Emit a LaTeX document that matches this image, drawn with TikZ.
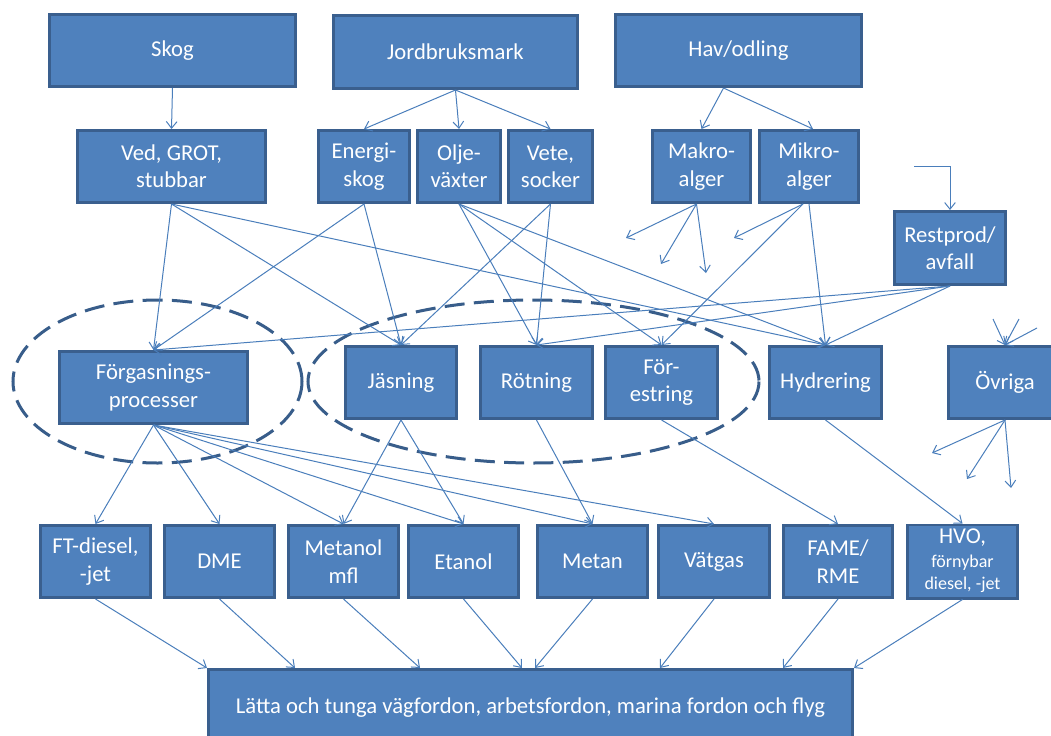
\documentclass[tikz,border=0pt]{standalone}
\usepackage{fontspec}
\setmainfont{Carlito}
\usetikzlibrary{arrows.meta,calc}
\definecolor{bfill}{HTML}{4F81BD}
\definecolor{bdraw}{HTML}{3A5F8E}
\definecolor{lcol}{HTML}{4A7EBB}
\definecolor{ecol}{HTML}{385D8A}
\newcommand\hvosmall{\fontsize{13.5}{15}\selectfont}
\begin{document}
\begin{tikzpicture}[x=0.75pt,y=-0.75pt,
  box/.style={draw=bdraw, fill=bfill, line width=2pt, text=white, align=center,
    inner sep=0pt, minimum height=54.25pt, font=\fontsize{17}{20.5}\selectfont},
  bw/.style={minimum width=#1*0.75pt-2pt},
  bh/.style={minimum height=#1*0.75pt-2pt},
  conn/.style={draw=lcol, line width=0.75pt, -{Straight Barb[length=5pt,width=8pt]}},
  ell/.style={draw=ecol, line width=2.25pt, dash pattern=on 15pt off 7pt}]
\useasboundingbox (0,0) rectangle (1051,736);
\clip (0,0) rectangle (1051,736);
% dashed groups
\draw[ell] (157.5,381.5) ellipse [x radius=144.5, y radius=81.5];
\draw[ell] (533.5,381.5) ellipse [x radius=225.5, y radius=81.5];
% boxes
\node[box,bw=249] (skog) at (172.5,50.5) {Skog};
\node[box,bw=247,bh=76] (jb) at (455.5,52) {Jordbruksmark};
\node[box,bw=249] (hav) at (738.5,50.5) {Hav/odling};
\node[box,bw=191] (ved) at (171.5,166.5) {Ved, GROT,\\stubbar};
\node[box,bw=94] (energi) at (364,166.5) {Energi-\\skog};
\node[box,bw=86] (olje) at (459,166.5) {Olje-\\växter};
\node[box,bw=87] (vete) at (550.5,166.5) {Vete,\\socker};
\node[box,bw=101] (makro) at (701.5,166.5) {Makro-\\alger};
\node[box,bw=102] (mikro) at (809,166.5) {Mikro-\\alger};
\node[box,bw=114,bh=76] (rest) at (950,248) {Restprod/\\avfall};
\node[box,bw=191] (forg) at (153.5,387.5) {Förgasnings-\\processer};
\node[box,bw=114] (jas) at (401,382.5) {Jäsning};
\node[box,bw=115] (rot) at (536.5,382.5) {Rötning};
\node[box,bw=115] (fore) at (661.5,382.5) {För-\\estring};
\node[box,bw=115] (hyd) at (825.5,382.5) {Hydrering};
\node[box,bw=116] (ovr) at (1005,382.5) {Övriga};
\node[box,bw=113] (ft) at (95.5,561.5) {FT-diesel,\\-jet};
\node[box,bw=113] (dme) at (219.5,561.5) {DME};
\node[box,bw=113] (metanol) at (343.5,561.5) {Metanol\\mfl};
\node[box,bw=113] (etanol) at (463.5,561.5) {Etanol};
\node[box,bw=113] (metan) at (592.5,561.5) {Metan};
\node[box,bw=114] (vatgas) at (714,561.5) {Vätgas};
\node[box,bw=112] (fame) at (838,561.5) {FAME/\\RME};
\node[box,bw=113] (hvo) at (962.5,561.5) {\begin{tabular}{@{}c@{}}HVO,\\[-3pt]\hvosmall förnybar\\[-3.5pt]\hvosmall diesel, -jet\end{tabular}};
\node[box,bw=647,bh=80] (big) at (530.5,708) {Lätta och tunga vägfordon, arbetsfordon, marina fordon och flyg};
% free ends
\coordinate (rin) at (914,166);
\coordinate (mk1) at (626,238);
\coordinate (mk2) at (661,264);
\coordinate (mk3) at (706,273);
\coordinate (mi1) at (734,238);
\coordinate (oi1) at (993,319);
\coordinate (oi2) at (1019,319);
\coordinate (oi3) at (1037,328);
\coordinate (oo1) at (932,453);
\coordinate (oo2) at (967,479);
\coordinate (oo3) at (1011,488);
% sources
\draw[conn] (skog.south) -- (ved.north);
\draw[conn] (jb.south) -- (energi.north);
\draw[conn] (jb.south) -- (olje.north);
\draw[conn] (jb.south) -- (vete.north);
\draw[conn] ($(hav.south)+(-15,0)$) -- (makro.north);
\draw[conn] ($(hav.south)+(-15,0)$) -- ($(mikro.north)+(4,0)$);
\draw[conn] (rin) -| (rest.north);
% to processes
\draw[conn] (ved.south) -- (forg.north);
\draw[conn] (ved.south) -- (jas.north);
\draw[conn] (ved.south) -- (hyd.north);
\draw[conn] (energi.south) -- (forg.north);
\draw[conn] (energi.south) -- (jas.north);
\draw[conn] (olje.south) -- (rot.north);
\draw[conn] (olje.south) -- (fore.north);
\draw[conn] (olje.south) -- (hyd.north);
\draw[conn] (vete.south) -- (jas.north);
\draw[conn] (vete.south) -- (rot.north);
\draw[conn] ($(makro.south)+(-5,0)$) -- (mk1);
\draw[conn] ($(makro.south)+(-5,0)$) -- (mk2);
\draw[conn] ($(makro.south)+(-5,0)$) -- (mk3);
\draw[conn] ($(mikro.south)+(-6,0)$) -- (mi1);
\draw[conn] ($(mikro.south)+(-6,0)$) -- (fore.north);
\draw[conn] (mikro.south) -- (hyd.north);
\draw[conn] (rest.south) -- (forg.north);
\draw[conn] (rest.south) -- (rot.north);
\draw[conn] (rest.south) -- (hyd.north);
\draw[conn] (oi1) -- (ovr.north);
\draw[conn] (oi2) -- (ovr.north);
\draw[conn] (oi3) -- (ovr.north);
\draw[conn] (ovr.south) -- (oo1);
\draw[conn] (ovr.south) -- (oo2);
\draw[conn] (ovr.south) -- (oo3);
% to fuels
\draw[conn] (forg.south) -- (ft.north);
\draw[conn] (forg.south) -- (dme.north);
\draw[conn] (forg.south) -- (metanol.north);
\draw[conn] (forg.south) -- (etanol.north);
\draw[conn] (forg.south) -- (metan.north);
\draw[conn] (forg.south) -- (vatgas.north);
\draw[conn] (jas.south) -- (metanol.north);
\draw[conn] (jas.south) -- (etanol.north);
\draw[conn] (rot.south) -- (metan.north);
\draw[conn] (fore.south) -- (fame.north);
\draw[conn] (hyd.south) -- (hvo.north);
% to vehicles
\draw[conn] (ft.south) -- (big.north west);
\draw[conn] (dme.south) -- ($(big.north west)+(88,0)$);
\draw[conn] (metanol.south) -- ($(big.north west)+(213,0)$);
\draw[conn] (etanol.south) -- ($(big.north west)+(315,0)$);
\draw[conn] (metan.south) -- ($(big.north west)+(328,0)$);
\draw[conn] (vatgas.south) -- ($(big.north west)+(453,0)$);
\draw[conn] (fame.south) -- ($(big.north west)+(576,0)$);
\draw[conn] (hvo.south) -- (big.north east);
\end{tikzpicture}
\end{document}
